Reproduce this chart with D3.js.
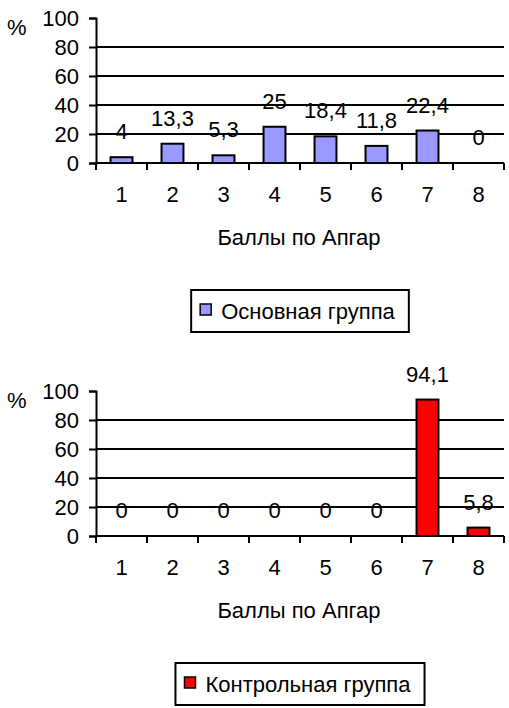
<!DOCTYPE html>
<html lang="ru">
<head>
<meta charset="UTF-8" />
<title>Баллы по Апгар</title>
<script src="https://d3js.org/d3.v7.min.js"></script>
<style>
  body { margin: 0; background: #fff; }
  svg { display: block; font-family: "Liberation Sans", Arial, sans-serif; }
</style>
</head>
<body>
<svg id="chart" width="509" height="708"></svg>
<script>
// данные
const categories = ["1", "2", "3", "4", "5", "6", "7", "8"];
const mainValues = [4, 13.3, 5.3, 25, 18.4, 11.8, 22.4, 0];
const controlValues = [0, 0, 0, 0, 0, 0, 94.1, 5.8];
const yTicks = [0, 20, 40, 60, 80, 100];
const axisTitle = "Баллы по Апгар";
const legendMain = "Основная группа";
const legendControl = "Контрольная группа";

const svg = d3.select("#chart");
const fmt = v => String(v).replace(".", ",");
const FS = 22;

function drawChart(top, values, color, legendText) {
    const g = svg.append("g").attr("transform", `translate(0,${top})`);
    const x = d3.scaleBand().domain(categories).range([96, 504]).padding(0);
    const y = d3.scaleLinear().domain([0, 100]).range([163, 18]);
    const barW = x.bandwidth() * 0.43;

    // сетка
    g.selectAll(".grid").data(yTicks.filter(t => t > 0 && t < 100)).join("line")
        .attr("x1", 96).attr("x2", 504)
        .attr("y1", d => y(d)).attr("y2", d => y(d))
        .attr("stroke", "#000").attr("stroke-width", 2);

    // ось Y
    const yAxis = g.append("g").attr("transform", "translate(96,0)")
        .call(d3.axisLeft(y).tickValues(yTicks).tickSize(7).tickPadding(10).tickFormat(d3.format("d")));
    yAxis.select(".domain").attr("stroke-width", 2);
    yAxis.selectAll(".tick line").attr("stroke-width", 2);
    yAxis.selectAll("text").attr("font-size", FS).attr("fill", "#000");

    // столбцы
    g.selectAll(".bar").data(values).join("rect")
        .attr("x", (d, i) => x(categories[i]) + (x.bandwidth() - barW) / 2)
        .attr("y", d => y(d))
        .attr("width", barW)
        .attr("height", d => y(0) - y(d))
        .attr("fill", color)
        .attr("stroke", d => d > 0 ? "#000" : "none")
        .attr("stroke-width", 2);

    // ось X
    const xAxisG = g.append("g").attr("transform", `translate(0,${y(0)})`);
    xAxisG.append("line").attr("x1", 96).attr("x2", 504).attr("stroke", "#000").attr("stroke-width", 2);
    const bounds = categories.map(c => x(c)).concat([x.range()[1]]);
    xAxisG.selectAll(".tk").data(bounds).join("line")
        .attr("x1", d => d).attr("x2", d => d).attr("y1", 0).attr("y2", 7)
        .attr("stroke", "#000").attr("stroke-width", 2);
    xAxisG.selectAll(".lbl").data(categories).join("text")
        .attr("x", d => x(d) + x.bandwidth() / 2).attr("y", 39)
        .attr("text-anchor", "middle").attr("font-size", FS).text(d => d);

    // подписи значений
    g.selectAll(".val").data(values).join("text")
        .attr("x", (d, i) => x(categories[i]) + x.bandwidth() / 2)
        .attr("y", d => y(d) - 18)
        .attr("text-anchor", "middle").attr("font-size", FS)
        .text(d => fmt(d));

    g.append("text").attr("x", 7).attr("y", 35).attr("font-size", FS).text("%");
    g.append("text").attr("x", 299).attr("y", 245).attr("text-anchor", "middle")
        .attr("font-size", FS).text(axisTitle);

    // легенда
    const leg = g.append("g");
    const t = leg.append("text").attr("y", 319).attr("font-size", FS).text(legendText);
    const tw = t.node().getComputedTextLength();
    const boxW = 9 + 11 + 10 + tw + 14;
    const bx = 300 - boxW / 2;
    leg.insert("rect", "text").attr("x", bx).attr("y", 290).attr("width", boxW).attr("height", 42)
        .attr("fill", "#fff").attr("stroke", "#000").attr("stroke-width", 2);
    leg.append("rect").attr("x", bx + 9).attr("y", 304).attr("width", 11).attr("height", 11)
        .attr("fill", color).attr("stroke", "#000").attr("stroke-width", 1.5);
    t.attr("x", bx + 30);
}

drawChart(0, mainValues, "#9999ff", legendMain);
drawChart(373, controlValues, "#ff0000", legendControl);
</script>
</body>
</html>
